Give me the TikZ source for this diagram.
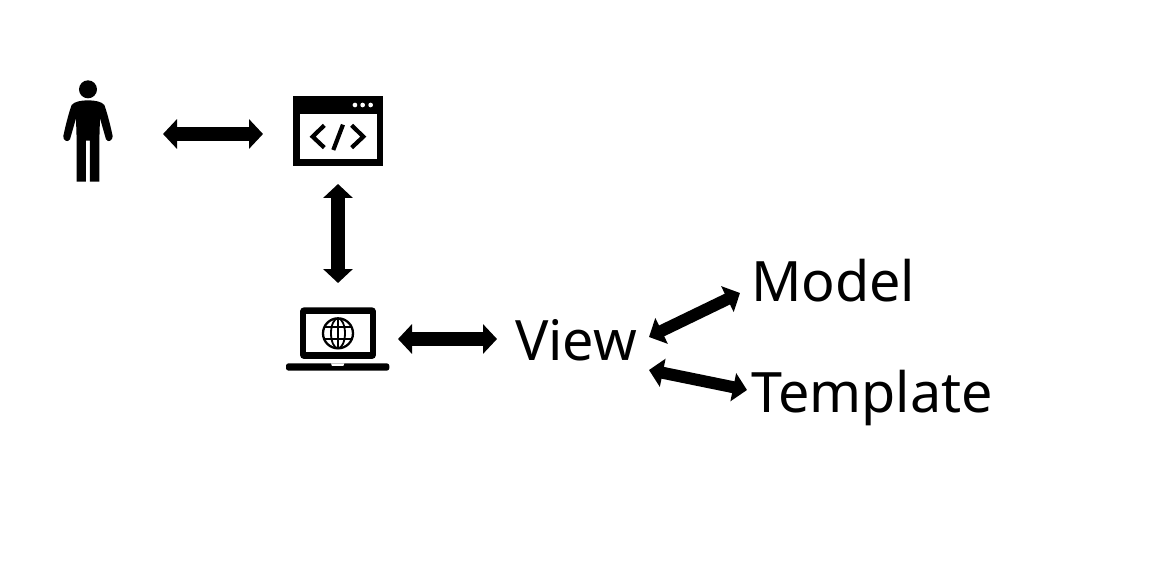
\documentclass[tikz,border=0pt]{standalone}
\usepackage{fontspec}
\setmainfont{Noto Sans}
\usetikzlibrary{arrows.meta}
\tikzset{
  biarrow/.style={line width=14pt, {Triangle[length=14pt,width=29pt]}-{Triangle[length=14pt,width=29pt]}},
  slantarrow/.style={line width=12pt, {Triangle[length=14pt,width=28pt]}-{Triangle[length=14pt,width=28pt]}},
  iconbox/.style={minimum width=#1, inner sep=0pt, outer sep=0pt},
  word/.style={inner sep=0pt, outer sep=0pt, anchor=base west, font=\fontsize{55.7}{56}\selectfont},
  zoomA/.style={shift={(40,60)}, x=0.3333pt, y=-0.3333pt},
  zoomB/.style={shift={(270,290)}, x=0.3333pt, y=-0.3333pt},
}
\begin{document}
\begin{tikzpicture}[x=1pt,y=-1pt]
\useasboundingbox (0,0) rectangle (1170,572);
\fill[white] (0,0) rectangle (1170,572);

% person icon
\begin{scope}[zoomA]
  \fill (144,88) circle[radius=27];
  \fill (144,121) .. controls (165,121) and (185,125) .. (193,135)
    .. controls (199,150) and (210,190) .. (218,228)
    .. controls (219,240) and (205,250) .. (198,238)
    -- (180,175) -- (178,240) -- (178,365) -- (150,365) -- (150,242) -- (138,242)
    -- (138,365) -- (110,365) -- (110,240) -- (108,175) -- (90,238)
    .. controls (83,250) and (68,240) .. (70,228)
    .. controls (78,190) and (89,150) .. (95,135)
    .. controls (103,125) and (123,121) .. (144,121) -- cycle;
\end{scope}

% browser icon
\begin{scope}[zoomA]
  \fill (759,108) rectangle (1029,317);
  \fill[white] (779,162) rectangle (1010,297);
  \foreach \dx in {945,968,992} \fill[white] (\dx,135) circle[radius=7];
  \draw[line width=4.2pt] (853,196) -- (818,230) -- (853,263);
  \draw[line width=4.2pt] (909,194) -- (880,270);
  \draw[line width=4.2pt] (935,196) -- (970,230) -- (935,263);
\end{scope}

% laptop icon
\begin{scope}[zoomB]
  \fill[rounded corners=4pt] (90,52) rectangle (318,207);
  \fill[white] (108,72) rectangle (300,187);
  \fill[rounded corners=2.5pt] (48,220) -- (358,220) -- (358,242) -- (48,242) -- cycle;
  \fill[white] (183,220) -- (223,220) -- (220,228) -- (186,228) -- cycle;
  \draw[line width=2.3pt] (204,130) circle[radius=45];
  \draw[line width=1.8pt] (204,130) ellipse[x radius=21, y radius=45];
  \draw[line width=1.8pt] (204,85) -- (204,175);
  \draw[line width=1.8pt] (163,112) -- (245,112);
  \draw[line width=1.8pt] (163,148) -- (245,148);
\end{scope}

% named places for the connectors
\node[iconbox=50pt, minimum height=106pt] (person) at (88,134) {};
\node[iconbox=90pt, minimum height=66pt] (browser) at (338,134) {};
\node[iconbox=104pt, minimum height=64pt] (laptop) at (338,339) {};
\node[word] (view) at (515,360) {View};
\node[word] (model) at (751,301) {Model};
\node[word] (template) at (751,412) {Template};

\coordinate (viewM) at (649,337);
\coordinate (modelV) at (740,293);
\coordinate (viewT) at (649,370);
\coordinate (templateV) at (747,390);

\draw[biarrow, shorten <=50pt, shorten >=30pt] (person.east) -- (browser.west);
\draw[biarrow, shorten <=17pt, shorten >=24pt] (browser.south) -- (laptop.north);
\draw[biarrow, shorten <=8pt, shorten >=18pt] (laptop.east) -- (laptop.east -| view.west);
\draw[slantarrow] (viewM) -- (modelV);
\draw[slantarrow] (viewT) -- (templateV);
\end{tikzpicture}
\end{document}
